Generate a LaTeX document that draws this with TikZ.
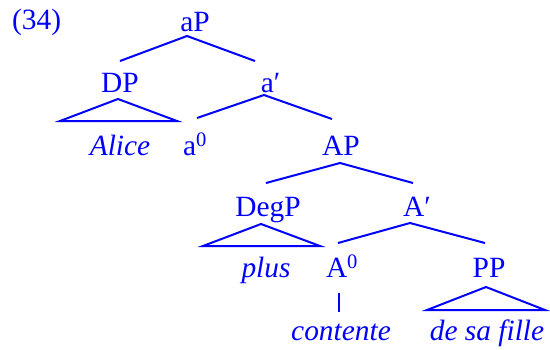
\documentclass[tikz,border=0pt]{standalone}
\usepackage{fontspec}
\setmainfont{Liberation Serif}
\begin{document}
\begin{tikzpicture}[x=1bp,y=-1bp,
  lab/.style={anchor=base,inner sep=0pt,text=blue,font=\fontsize{29.5}{32}\selectfont},
  word/.style={lab,font=\fontsize{29.5}{32}\selectfont\itshape},
  br/.style={draw=blue,line width=2bp,line join=miter}]
\useasboundingbox (0,0) rectangle (550,349);
\node[lab,anchor=base west] (ex) at (12,29) {(34)};
\node[lab] (aP) at (195,31) {aP};
\node[lab] (DP) at (120,92) {DP};
\node[lab] (abar) at (270.5,92) {a′};
\node[word] (alice) at (120,155) {Alice};
\node[lab] (a0) at (195,155) {a\textsuperscript{0}};
\node[lab] (AP) at (341,155) {AP};
\node[lab] (DegP) at (268,216) {DegP};
\node[lab] (Abar) at (417,216) {A′};
\node[word] (plus) at (266,277) {plus};
\node[lab] (A0) at (342,277) {A\textsuperscript{0}};
\node[lab] (PP) at (489,277) {PP};
\node[word] (contente) at (341,340) {contente};
\node[word] (fille) at (487,340) {de sa fille};
% coordinates
\coordinate (aPt) at (187,36);
\coordinate (aPl) at (120,61);
\coordinate (aPr) at (255,61);
\coordinate (DPt) at (118,99);
\coordinate (DPl) at (60,121);
\coordinate (DPr) at (177,121);
\coordinate (abt) at (264,95);
\coordinate (abl) at (197,118);
\coordinate (abr) at (332,119);
\coordinate (APt) at (340,163);
\coordinate (APl) at (266,183);
\coordinate (APr) at (413,183);
\coordinate (Dgt) at (261,224);
\coordinate (Dgl) at (203,246);
\coordinate (Dgr) at (320,246);
\coordinate (Abt) at (410,223);
\coordinate (Abl) at (338,243);
\coordinate (Abr) at (485,243);
\coordinate (A0t) at (339,293);
\coordinate (A0b) at (339,312);
\coordinate (PPt) at (486,287);
\coordinate (PPl) at (427,310);
\coordinate (PPr) at (545,310);
\draw[br] (aPl) -- (aPt) -- (aPr);
\draw[br] (DPt) -- (DPl) -- (DPr) -- cycle;
\draw[br] (abl) -- (abt) -- (abr);
\draw[br] (APl) -- (APt) -- (APr);
\draw[br] (Dgt) -- (Dgl) -- (Dgr) -- cycle;
\draw[br] (Abl) -- (Abt) -- (Abr);
\draw[br] (A0t) -- (A0b);
\draw[br] (PPt) -- (PPl) -- (PPr) -- cycle;
\end{tikzpicture}
\end{document}
